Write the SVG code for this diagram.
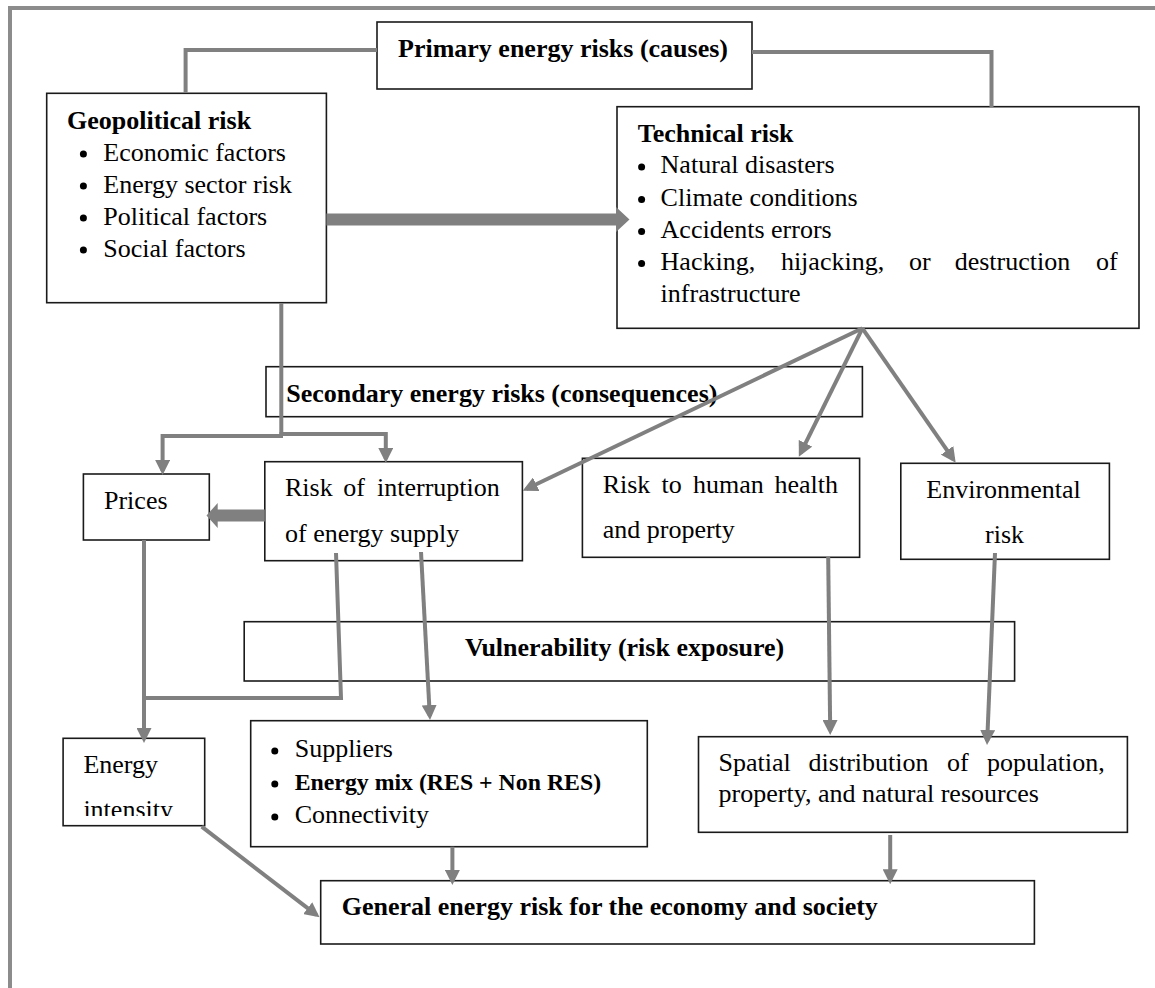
<svg xmlns="http://www.w3.org/2000/svg" width="1155" height="988" viewBox="0 0 1155 988">
<style>
.box{fill:#fff;stroke:#1a1a1a;stroke-width:1.6}
text{font-family:"Liberation Serif","Times New Roman",serif;font-size:26px;fill:#000}
.b{font-weight:bold}
.con{fill:none;stroke:#808080;stroke-width:4}
.arr{marker-end:url(#ah)}
.thick{fill:#808080;stroke:none}
.dot{fill:#000}
</style>
<defs>
<marker id="ah" markerUnits="userSpaceOnUse" markerWidth="15" markerHeight="15" refX="11" refY="7.5" orient="auto">
<path d="M0,0 L15,7.5 L0,15 Z" fill="#808080"/>
</marker>
<clipPath id="clipEI"><rect x="60" y="735" width="150" height="81"/></clipPath>
</defs>
<rect width="1155" height="988" fill="#fff"/>
<path d="M10,988 V8 H1155" fill="none" stroke="#8c8c8c" stroke-width="4"/>

<g id="primary">
<rect class="box" x="377" y="22" width="375" height="67"/>
<text class="b" x="398" y="57">Primary energy risks (causes)</text>
</g>

<g id="geopolitical">
<rect class="box" x="46.7" y="93.3" width="279.7" height="209.4"/>
<text class="b" x="67" y="129">Geopolitical risk</text>
<circle class="dot" cx="83.4" cy="154" r="3.5"/><text x="103.3" y="161">Economic factors</text>
<circle class="dot" cx="83.4" cy="186" r="3.5"/><text x="103.3" y="193">Energy sector risk</text>
<circle class="dot" cx="83.4" cy="218" r="3.5"/><text x="103.3" y="225">Political factors</text>
<circle class="dot" cx="83.4" cy="250" r="3.5"/><text x="103.3" y="257">Social factors</text>
</g>

<g id="technical">
<rect class="box" x="617" y="106.7" width="522" height="221.6"/>
<text class="b" x="637.8" y="142">Technical risk</text>
<circle class="dot" cx="641.6" cy="167" r="3.5"/><text x="660.6" y="173">Natural disasters</text>
<circle class="dot" cx="641.6" cy="199.5" r="3.5"/><text x="660.6" y="206">Climate conditions</text>
<circle class="dot" cx="641.6" cy="231.5" r="3.5"/><text x="660.6" y="238">Accidents errors</text>
<circle class="dot" cx="641.6" cy="263.5" r="3.5"/>
<text y="270"><tspan x="660.6">Hacking,</tspan><tspan x="780.9">hijacking,</tspan><tspan x="909">or</tspan><tspan x="954.7">destruction</tspan><tspan x="1096">of</tspan></text>
<text x="660.6" y="302">infrastructure</text>
</g>

<g id="secondary">
<rect class="box" x="266" y="366.7" width="596.4" height="50"/>
<text class="b" x="286.3" y="401.7">Secondary energy risks (consequences)</text>
</g>

<g id="prices">
<rect class="box" x="83.4" y="474" width="125.9" height="66"/>
<text x="104" y="509.3">Prices</text>
</g>

<g id="interruption">
<rect class="box" x="264.8" y="461.7" width="257.6" height="99"/>
<text y="496"><tspan x="285">Risk</tspan><tspan x="343.3">of</tspan><tspan x="377">interruption</tspan></text>
<text x="285" y="541.7">of energy supply</text>
</g>

<g id="human-health">
<rect class="box" x="582.4" y="458.3" width="277.2" height="99"/>
<text y="493.3"><tspan x="602.7">Risk</tspan><tspan x="661.6">to</tspan><tspan x="693">human</tspan><tspan x="774.5">health</tspan></text>
<text x="602.7" y="538.3">and property</text>
</g>

<g id="environmental">
<rect class="box" x="900.8" y="463.3" width="208.6" height="96"/>
<text x="926.3" y="498.3">Environmental</text>
<text x="985" y="543.3">risk</text>
</g>

<g id="vulnerability">
<rect class="box" x="244.2" y="621.7" width="770.4" height="59.3"/>
<text class="b" x="465" y="656">Vulnerability (risk exposure)</text>
</g>

<g id="energy-intensity">
<rect class="box" x="63.1" y="738.3" width="141.6" height="87.4"/>
<text x="83.4" y="773.3">Energy</text>
<text x="83.4" y="818" clip-path="url(#clipEI)">intensity</text>
</g>

<g id="suppliers">
<rect class="box" x="250.7" y="720.7" width="396.6" height="126"/>
<circle class="dot" cx="274.8" cy="751" r="3.5"/><text x="294.7" y="757.3">Suppliers</text>
<circle class="dot" cx="274.8" cy="784" r="3.5"/><text class="b" x="294.7" y="790" style="font-size:23.8px">Energy mix (RES + Non RES)</text>
<circle class="dot" cx="274.8" cy="817" r="3.5"/><text x="294.7" y="823.3">Connectivity</text>
</g>

<g id="spatial">
<rect class="box" x="698.5" y="736.7" width="428.9" height="95.6"/>
<text y="770.7"><tspan x="718.6">Spatial</tspan><tspan x="808.6">distribution</tspan><tspan x="947">of</tspan><tspan x="987">population,</tspan></text>
<text x="718.6" y="801.7">property, and natural resources</text>
</g>

<g id="general">
<rect class="box" x="320.7" y="880.7" width="713.7" height="63.3"/>
<text class="b" x="341.8" y="915">General energy risk for the economy and society</text>
</g>

<g id="connectors">
<polyline class="con" points="185.6,93 185.6,50 377,50"/>
<polyline class="con" points="752,52 991.5,52 991.5,107"/>
<path class="thick" d="M326.4,213.5 H616 V207 L629.5,219.5 L616,232 V225.5 H326.4 Z"/>
<line class="con" x1="281.3" y1="303" x2="281.3" y2="436"/>
<polyline class="con arr" points="283,436 162.6,436 162.6,471"/>
<polyline class="con arr" points="279.5,434 385.8,434 385.8,459"/>
<line class="con arr" x1="862.4" y1="328.3" x2="526.3" y2="489"/>
<line class="con arr" x1="862.4" y1="328.3" x2="800.6" y2="453.1"/>
<line class="con arr" x1="862.4" y1="328.3" x2="953.4" y2="459.4"/>
<path class="thick" d="M264.8,509.5 H217.7 V503 L206.5,515.5 L217.7,528 V521.5 H264.8 Z"/>
<line class="con arr" x1="144" y1="540" x2="144" y2="739"/>
<polyline class="con" points="336,553 341,698 142,698"/>
<line class="con arr" x1="421" y1="552" x2="429.8" y2="716"/>
<line class="con arr" x1="828.2" y1="557" x2="830.2" y2="731"/>
<line class="con arr" x1="995" y1="553" x2="987.2" y2="741"/>
<line class="con arr" x1="201.7" y1="826.7" x2="316.4" y2="914.9"/>
<line class="con arr" x1="452.4" y1="846.7" x2="452.4" y2="881"/>
<line class="con arr" x1="890.2" y1="835" x2="890.2" y2="880.3"/>
</g>
</svg>
